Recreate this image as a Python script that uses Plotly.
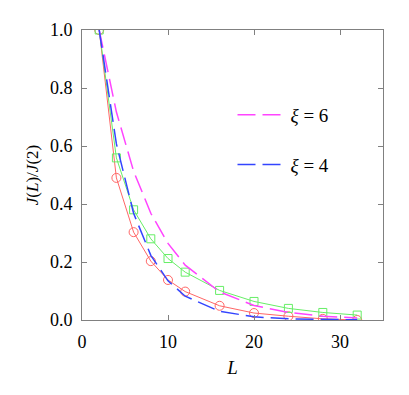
import plotly.graph_objects as go

L = [2, 4, 6, 8, 10, 12, 16, 20, 24, 28, 32]
red_vals = [1.0, 0.49, 0.303, 0.203, 0.138, 0.098, 0.049, 0.024, 0.013, 0.004, 0.0]
green_vals = [1.0, 0.559, 0.38, 0.28, 0.212, 0.165, 0.102, 0.064, 0.04, 0.026, 0.017]
xi6_vals = [1.0, 0.717, 0.513, 0.368, 0.264, 0.189, 0.097, 0.050, 0.026, 0.013, 0.007]
xi4_vals = [1.0, 0.607, 0.368, 0.223, 0.135, 0.082, 0.030, 0.011, 0.004, 0.0015, 0.0006]

FONT = "Liberation Serif"

fig = go.Figure()
fig.add_trace(go.Scatter(x=L, y=red_vals, mode="lines+markers", showlegend=False,
                         line=dict(color="#ff6666", width=1),
                         marker=dict(symbol="circle-open", size=9, color="#ff6666", line=dict(width=1))))
fig.add_trace(go.Scatter(x=L, y=green_vals, mode="lines+markers", showlegend=False,
                         line=dict(color="#66ee66", width=1),
                         marker=dict(symbol="square-open", size=8, color="#66ee66", line=dict(width=1))))
fig.add_trace(go.Scatter(x=L, y=xi6_vals, mode="lines", name="<i>ξ</i> = 6", legendgroup="a",
                         line=dict(color="#ff44ff", width=1.5, dash="18px,7px")))
fig.add_trace(go.Scatter(x=L, y=xi4_vals, mode="lines", name="<i>ξ</i> = 4", legendgroup="b",
                         line=dict(color="#3344ff", width=1.5, dash="18px,7px")))

axis_common = dict(showline=True, linecolor="#808080", linewidth=1, mirror="ticks",
                   ticks="inside", ticklen=5, tickcolor="#808080", showgrid=False, zeroline=False,
                   tickfont=dict(family=FONT, size=18, color="black"))

fig.update_layout(
    width=401, height=387,
    margin=dict(l=74, r=26, t=12, b=75),
    plot_bgcolor="white", paper_bgcolor="white",
    font=dict(family=FONT, size=18, color="black"),
    xaxis=dict(range=[0, 35], tickvals=[0, 10, 20, 30], ticklabelstandoff=5,
               title=dict(text="<i>L</i>", font=dict(family=FONT, size=19), standoff=10),
               **axis_common),
    yaxis=dict(range=[0, 1.0], tickvals=[0, 0.2, 0.4, 0.6, 0.8, 1.0], tickformat=".1f",
               ticklabelstandoff=5,
               title=dict(text="<i>J</i>(<i>L</i>)/<i>J</i>(2)", font=dict(family=FONT, size=17), standoff=6),
               **axis_common),
    legend=dict(x=0.5, y=0.773, xanchor="left", yanchor="top", bgcolor="rgba(0,0,0,0)",
                font=dict(family=FONT, size=19), tracegroupgap=22, traceorder="grouped",
                itemwidth=48),
)

fig.write_html("out.html")
